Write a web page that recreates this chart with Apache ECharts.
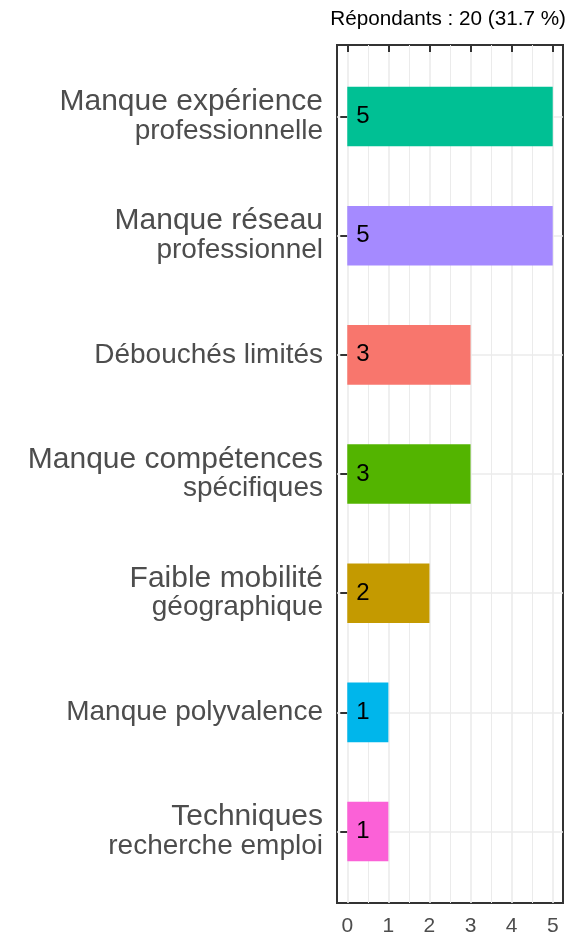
<!DOCTYPE html>
<html>
<head>
<meta charset="utf-8">
<script src="https://cdn.jsdelivr.net/npm/echarts@6/dist/echarts.min.js"></script>
<style>
  html, body { margin: 0; padding: 0; background: #ffffff; }
  #chart { width: 584px; height: 940px; }
</style>
</head>
<body>
<div id="chart"></div>
<script>
// ---- data ----
const titleText = 'Répondants : 20 (31.7 %)';
const categories = [
  'Manque expérience\nprofessionnelle',
  'Manque réseau\nprofessionnel',
  'Débouchés limités',
  'Manque compétences\nspécifiques',
  'Faible mobilité\ngéographique',
  'Manque polyvalence',
  'Techniques\nrecherche emploi'
];
const values = [5, 5, 3, 3, 2, 1, 1];
const barColors = ['#00C094', '#A58AFF', '#F8766D', '#53B400', '#C49A00', '#00B6EB', '#FB61D7'];
const xTicks = [0, 1, 2, 3, 4, 5];
const xMinorTicks = [0.5, 1.5, 2.5, 3.5, 4.5];

// ---- chart ----
const FONT = "'Liberation Sans', Arial, Helvetica, sans-serif";
const xMin = -0.25, xMax = 5.25;
const pad = 0.6; // discrete expansion (ggplot style)
const nCat = categories.length;

const chart = echarts.init(document.getElementById('chart'), null, { renderer: 'canvas' });

const panelTop = 45, panelBottom = 37, panelLeft = 337, panelRight = 21;
const panelH = 940 - panelTop - panelBottom;
const unit = panelH / (nCat - 1 + 2 * pad);
const inner = (pad - 0.5) * unit;

chart.setOption({
  animation: false,
  backgroundColor: '#ffffff',
  title: {
    text: titleText,
    right: 18,
    top: 9,
    padding: 0,
    textStyle: { fontFamily: FONT, fontSize: 20.7, fontWeight: 'normal', color: '#000000' }
  },
  grid: [
    { left: panelLeft, right: panelRight, top: panelTop, bottom: panelBottom,
      show: true, borderColor: '#333333', borderWidth: 2, backgroundColor: 'transparent', containLabel: false },
    { left: panelLeft, right: panelRight, top: panelTop + inner, bottom: panelBottom + inner,
      show: false, containLabel: false }
  ],
  xAxis: [
    { type: 'value', gridIndex: 0, min: xMin, max: xMax, position: 'bottom',
      axisLine: { show: false },
      axisTick: { show: true, length: 7, customValues: xTicks, lineStyle: { color: '#333333', width: 2 } },
      axisLabel: { show: true, customValues: xTicks, margin: 13, color: '#4d4d4d', fontSize: 21, fontFamily: FONT },
      splitLine: { show: true, lineStyle: { color: '#ebebeb', width: 1.6 } }
    },
    { type: 'value', gridIndex: 0, min: xMin, max: xMax, position: 'top',
      axisLine: { show: false },
      axisTick: { show: false, customValues: xMinorTicks },
      axisLabel: { show: false },
      splitLine: { show: true, lineStyle: { color: '#ebebeb', width: 1 } }
    },
    { type: 'value', gridIndex: 1, min: xMin, max: xMax, show: false,
      splitLine: { show: false } }
  ],
  yAxis: [
    { type: 'value', gridIndex: 0, min: 0, max: nCat - 1 + 2 * pad, inverse: true,
      axisLine: { show: false },
      axisTick: { show: false, customValues: categories.map((_, i) => i + pad) },
      axisLabel: { show: false },
      splitLine: { show: true, lineStyle: { color: '#ebebeb', width: 1.6 } }
    },
    { type: 'category', gridIndex: 1, data: categories, inverse: true,
      axisLine: { show: false },
      axisTick: { show: true, alignWithLabel: true, length: 7, lineStyle: { color: '#333333', width: 2 } },
      splitLine: { show: false },
      axisLabel: {
        margin: 14,
        color: '#4d4d4d',
        fontFamily: FONT,
        align: 'right',
        formatter: function (v) {
          const parts = v.split('\n');
          if (parts.length > 1) {
            return '{a|' + parts[0] + '}\n{b|' + parts[1] + '}';
          }
          return '{c|' + v + '}';
        },
        rich: {
          a: { fontSize: 30, lineHeight: 29, color: '#4d4d4d', fontFamily: FONT, align: 'right' },
          b: { fontSize: 28, lineHeight: 29, color: '#4d4d4d', fontFamily: FONT, align: 'right' },
          c: { fontSize: 28, lineHeight: 29, color: '#4d4d4d', fontFamily: FONT, align: 'right' }
        }
      }
    }
  ],
  series: [
    {
      type: 'bar',
      xAxisIndex: 2,
      yAxisIndex: 1,
      barWidth: '50%',
      data: values.map((v, i) => ({ value: v, itemStyle: { color: barColors[i] } })),
      label: {
        show: true,
        position: 'insideLeft',
        distance: 9,
        color: '#000000',
        fontSize: 24,
        fontFamily: FONT
      }
    }
  ]
});
</script>
</body>
</html>
